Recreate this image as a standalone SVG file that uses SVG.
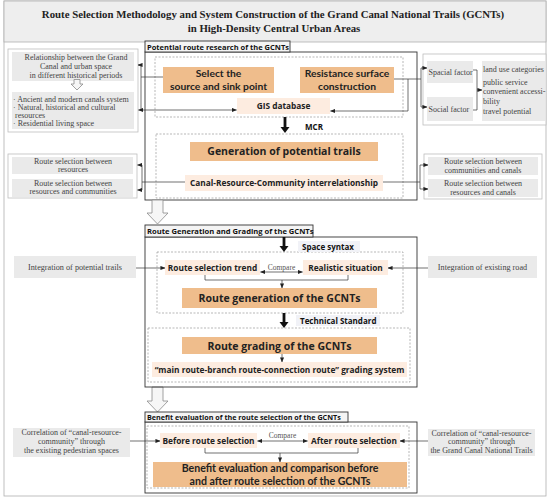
<svg xmlns="http://www.w3.org/2000/svg" width="550" height="502" viewBox="0 0 550 502">
<style>
.title{font-family:"Liberation Serif",serif;font-weight:bold;font-size:10.8px;fill:#222;text-anchor:middle}
.sec{font-family:"Open Sans",sans-serif;font-weight:bold;font-size:7.5px;fill:#111}
.secbox{fill:#f4f4f4;stroke:#333;stroke-width:0.9}
.frame{fill:none;stroke:#333;stroke-width:0.9}
.dash{fill:none;stroke:#999;stroke-width:0.7;stroke-dasharray:2,1.5}
.or{fill:#efbd8c}
.lt{fill:#fdece0}
.ob{font-family:"Open Sans",sans-serif;font-weight:bold;font-size:10.5px;fill:#222;text-anchor:middle}
.ob2{font-family:Lato,"Open Sans",sans-serif;font-weight:bold;font-size:10.3px;fill:#222;text-anchor:middle}
.lb{font-family:"Open Sans",sans-serif;font-weight:bold;font-size:8.3px;fill:#222;text-anchor:middle}
.pan{fill:#fff;stroke:#bdbdbd;stroke-width:0.8}
.gf{fill:#eaeaea}
.sr{font-family:"Liberation Serif",serif;font-size:8px;fill:#444}
.src{font-family:"Liberation Serif",serif;font-size:8px;fill:#444;text-anchor:middle}
.cmp{font-family:"Liberation Serif",serif;font-size:7.5px;fill:#555;text-anchor:middle}
.ln{fill:none;stroke:#333;stroke-width:0.7}
.lna{fill:none;stroke:#333;stroke-width:0.7;marker-end:url(#ah)}
.lnb{fill:none;stroke:#333;stroke-width:0.7;marker-end:url(#ah);marker-start:url(#ahs)}
.hollow{fill:#f6f6f6;stroke:#8a8a8a;stroke-width:0.8}
.thick{fill:#111}
.mid{font-family:"Open Sans",sans-serif;font-weight:bold;font-size:8px;fill:#111}
.midbg{fill:#f1f2f7}
</style>
<defs>
<marker id="ah" viewBox="0 0 6 6" refX="5.5" refY="3" markerWidth="5" markerHeight="5" orient="auto" markerUnits="userSpaceOnUse"><path d="M0,0.5 L6,3 L0,5.5 z" fill="#222"/></marker>
<marker id="ahs" viewBox="0 0 6 6" refX="0.5" refY="3" markerWidth="5" markerHeight="5" orient="auto" markerUnits="userSpaceOnUse"><path d="M6,0.5 L0,3 L6,5.5 z" fill="#222"/></marker>
</defs>

<!-- outer frame and title -->
<g id="frame">
<rect x="4" y="1" width="542" height="495" fill="#fff" stroke="#b0b0b0" stroke-width="0.8"/>
<rect x="4" y="1" width="542" height="41" fill="#eeeeee" stroke="#b0b0b0" stroke-width="0.8"/>
<text class="title" x="273" y="18">Route Selection Methodology and System Construction of the Grand Canal National Trails (GCNTs)</text>
<text class="title" x="274" y="32">in High-Density Central Urban Areas</text>
</g>

<!-- Section 1 -->
<g id="section1">
<rect class="frame" x="145" y="52" width="272" height="148" fill="#fff"/>
<rect class="secbox" x="145" y="41" width="145" height="11"/>
<text class="sec" x="147" y="49.5">Potential route research of the GCNTs</text>
<rect class="dash" x="155" y="57" width="248" height="60"/>
<rect class="dash" x="156" y="134" width="247" height="64"/>
</g>
<g id="select-source">
<rect class="or" x="163" y="67" width="111" height="26"/>
<text class="ob2" x="218.5" y="77.3">Select the</text>
<text class="ob2" x="218.5" y="89.8">source and sink point</text>
</g>
<g id="resistance">
<rect class="or" x="300" y="67" width="94" height="26"/>
<text class="ob2" x="347" y="77.3">Resistance surface</text>
<text class="ob2" x="347" y="89.8">construction</text>
</g>
<g id="gis">
<rect class="lt" x="237" y="98" width="93" height="16"/>
<text class="lb" x="283.5" y="109">GIS database</text>
</g>
<g id="mcr">
<rect class="thick" x="283.6" y="117" width="2.8" height="10"/>
<polygon class="thick" points="280.5,127 289.5,127 285,133"/>
<text class="mid" x="305" y="129.5">MCR</text>
</g>
<g id="gen-potential">
<rect class="or" x="190" y="142" width="188" height="19"/>
<text class="ob" x="284" y="155">Generation of potential trails</text>
</g>
<g id="crc">
<rect class="lt" x="185" y="175" width="198" height="16"/>
<text class="lb" x="284" y="186">Canal-Resource-Community interrelationship</text>
</g>

<!-- left panel 1 -->
<g id="left-history">
<rect class="pan" x="8" y="49" width="130" height="83"/>
<rect class="gf" x="12" y="52" width="122" height="29"/>
<rect class="gf" x="12" y="92" width="122" height="37"/>
<text class="src" x="76" y="59.5">Relationship between the Grand</text>
<text class="src" x="76" y="68.5">Canal and urban space</text>
<text class="src" x="76" y="77.5">in different historical periods</text>
<polygon class="hollow" points="74,79.5 80,79.5 80,84 83,84 77,90 71,84 74,84"/>
<text class="sr" x="13" y="101.5">· Ancient and modern canals system</text>
<text class="sr" x="13" y="109.5">· Natural, historical and cultural</text>
<text class="sr" x="15" y="117.5">resources</text>
<text class="sr" x="13" y="126">· Residential living space</text>
</g>

<!-- right panel 1 -->
<g id="right-factors">
<rect class="pan" x="423" y="54" width="123" height="71"/>
<rect class="gf" x="427" y="61" width="46" height="22"/>
<rect class="gf" x="427" y="97" width="46" height="24"/>
<rect class="gf" x="482" y="61" width="63" height="60"/>
<text class="sr" x="428.5" y="75">Spacial factor</text>
<text class="sr" x="428.5" y="111.5">Social factor</text>
<text class="sr" x="483" y="72">land use categories</text>
<text class="sr" x="483" y="84.5">public service</text>
<text class="sr" x="483" y="94.2">convenient accessi-</text>
<text class="sr" x="483" y="103.6">bility</text>
<text class="sr" x="483" y="114">travel potential</text>
</g>

<!-- left panel 2 -->
<g id="left-routes">
<rect class="pan" x="8" y="154" width="129" height="44"/>
<rect class="gf" x="12" y="157" width="121" height="17"/>
<rect class="gf" x="12" y="179" width="121" height="18"/>
<text class="src" x="73" y="164">Route selection between</text>
<text class="src" x="73" y="172">resources</text>
<text class="src" x="73" y="185.5">Route selection between</text>
<text class="src" x="73" y="194">resources and communities</text>
</g>

<!-- right panel 2 -->
<g id="right-routes">
<rect class="pan" x="424" y="154" width="118" height="45"/>
<rect class="gf" x="428" y="157" width="110" height="18"/>
<rect class="gf" x="428" y="179" width="110" height="18"/>
<text class="src" x="483" y="164">Route selection between</text>
<text class="src" x="483" y="172.5">communities and canals</text>
<text class="src" x="483" y="186">Route selection between</text>
<text class="src" x="483" y="194.5">resources and canals</text>
</g>

<!-- hollow arrows between sections -->
<g id="hollow-arrow-1"><polygon class="hollow" points="152,200 163,200 163,213 168,213 157.5,224 147,213 152,213"/></g>
<g id="hollow-arrow-2"><polygon class="hollow" points="152,387 163,387 163,401 168,401 157.5,412 147,401 152,401"/></g>

<!-- Section 2 -->
<g id="section2">
<rect class="frame" x="145" y="237" width="272" height="150" fill="#fff"/>
<rect class="secbox" x="145" y="225" width="168" height="12"/>
<text class="sec" x="147" y="234" style="font-size:7.6px">Route Generation and Grading of the GCNTs</text>
<rect class="dash" x="157" y="252" width="246" height="61"/>
<rect class="dash" x="148" y="328" width="262" height="54"/>
</g>
<g id="space-syntax">
<rect class="midbg" x="298" y="241" width="62" height="11"/>
<rect class="thick" x="282.6" y="237" width="2.8" height="9"/>
<polygon class="thick" points="279.5,246 288.5,246 284,252"/>
<text class="mid" x="302" y="249.5">Space syntax</text>
</g>
<g id="trend">
<rect class="lt" x="165" y="260" width="95" height="15"/>
<text class="lb" x="212.5" y="270.5">Route selection trend</text>
</g>
<g id="realistic">
<rect class="lt" x="303" y="260" width="85" height="15"/>
<text class="lb" x="345.5" y="270.5">Realistic situation</text>
</g>
<g id="route-gen">
<rect class="or" x="182" y="288" width="195" height="20"/>
<text class="ob" x="279.5" y="301.5">Route generation of the GCNTs</text>
</g>
<g id="tech-std">
<rect class="midbg" x="296" y="315" width="84" height="11"/>
<rect class="thick" x="282.6" y="313" width="2.8" height="9"/>
<polygon class="thick" points="279.5,322 288.5,322 284,328"/>
<text class="mid" x="300" y="323.5">Technical Standard</text>
</g>
<g id="route-grade">
<rect class="or" x="182" y="337" width="195" height="17"/>
<text class="ob" x="279.5" y="349.5">Route grading of the GCNTs</text>
</g>
<g id="grading-system">
<rect class="lt" x="152" y="362" width="255" height="15"/>
<text class="lb" x="279.5" y="372.5">“main route-branch route-connection route” grading system</text>
</g>
<g id="left-potential">
<rect class="gf" x="14" y="256" width="122" height="22"/>
<text class="src" x="75" y="269.5" style="font-size:8.2px">Integration of potential trails</text>
</g>
<g id="right-existing">
<rect class="gf" x="428" y="256" width="109" height="22"/>
<text class="src" x="482.5" y="269.5" style="font-size:8.2px">Integration of existing road</text>
</g>

<!-- Section 3 -->
<g id="section3">
<rect class="frame" x="145" y="422" width="272" height="71" fill="#fff"/>
<rect class="secbox" x="145" y="412" width="203" height="10"/>
<text class="sec" x="147" y="419.8" style="font-size:7.2px">Benefit evaluation of the route selection of the GCNTs</text>
<rect class="dash" x="147" y="426" width="262" height="62"/>
</g>
<g id="before">
<rect class="lt" x="160" y="433" width="97" height="15"/>
<text class="lb" x="208.5" y="443.5">Before route selection</text>
</g>
<g id="after">
<rect class="lt" x="308" y="433" width="92" height="15"/>
<text class="lb" x="354" y="443.5">After route selection</text>
</g>
<g id="benefit">
<rect class="or" x="153" y="462" width="254" height="25"/>
<text class="ob2" x="280" y="472.2" style="font-size:10.6px">Benefit evaluation and comparison before</text>
<text class="ob2" x="280" y="484.6" style="font-size:10.6px">and after route selection of the GCNTs</text>
</g>
<g id="left-pedestrian">
<rect class="gf" x="13" y="428" width="117" height="29"/>
<text class="src" x="71.5" y="435">Correlation of “canal-resource-</text>
<text class="src" x="71.5" y="444">community” through</text>
<text class="src" x="71.5" y="453">the existing pedestrian spaces</text>
</g>
<g id="right-gcnt">
<rect class="gf" x="428" y="429" width="107" height="27"/>
<text class="src" x="481.5" y="435.5">Correlation of “canal-resource-</text>
<text class="src" x="481.5" y="444">community” through</text>
<text class="src" x="481.5" y="452.5">the Grand Canal National Trails</text>
</g>

<!-- connectors -->
<g id="connectors">
<path class="lna" d="M141,65 L138,65"/>
<path class="ln" d="M141,65 L141,110"/>
<path class="ln" d="M141,77 L163,77"/>
<path class="lnb" d="M138.5,110 L236.5,110"/>
<path class="ln" d="M394,79 L421,79"/>
<path class="lna" d="M421,68 L427,68"/>
<path class="ln" d="M421,68 L421,107"/>
<path class="lna" d="M421,107 L427,107"/>
<path class="lna" d="M408,79 L408,111 L330.5,111"/>
<path class="ln" d="M473,70 L477,70 L477,110 L473,110"/>
<path class="lna" d="M477,90 L482,90"/>
<path class="lna" d="M142,165 L137.5,165"/>
<path class="lna" d="M142,190 L137.5,190"/>
<path class="ln" d="M142,165 L142,190"/>
<path class="ln" d="M142,182 L185,182"/>
<path class="ln" d="M383,182 L420,182"/>
<path class="lna" d="M420,165 L428,165"/>
<path class="lna" d="M420,189 L428,189"/>
<path class="ln" d="M420,165 L420,189"/>
<path class="lna" d="M136,268 L165,268"/>
<path class="lna" d="M428,268 L388,268"/>
<path class="lnb" d="M260.5,272 L302.5,272"/>
<text class="cmp" x="281.5" y="269.5">Compare</text>
<path class="ln" d="M205,275 L205,280 L348,280 L348,275"/>
<path class="lna" d="M282,280 L282,288"/>
<path class="lna" d="M282,354 L282,362"/>
<path class="lna" d="M130,441 L160,441"/>
<path class="lna" d="M428,441 L400,441"/>
<path class="lnb" d="M257.5,441 L307.5,441"/>
<text class="cmp" x="282.5" y="438">Compare</text>
<path class="ln" d="M205,448 L205,453 L358,453 L358,448"/>
<path class="lna" d="M280,453 L280,462"/>
</g>
</svg>
